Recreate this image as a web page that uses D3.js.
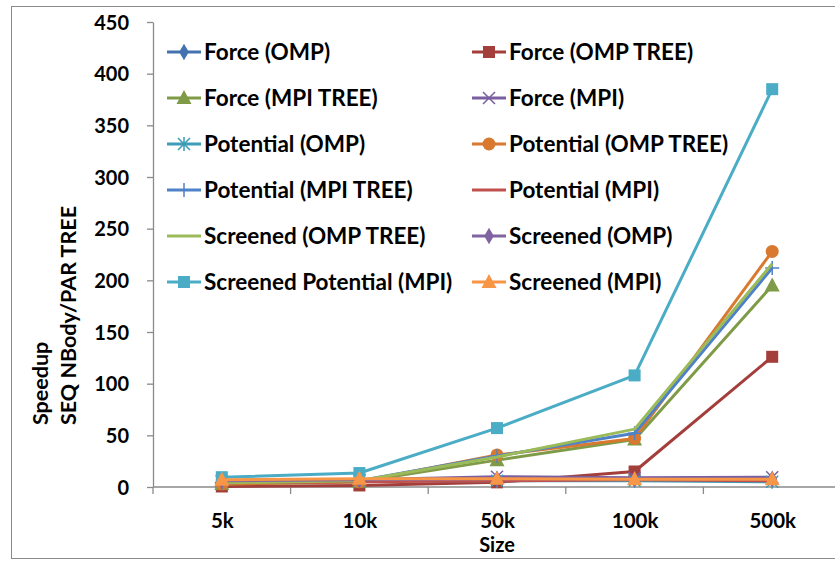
<!DOCTYPE html>
<html>
<head>
<meta charset="utf-8">
<script src="https://cdn.jsdelivr.net/npm/d3@7"></script>
<style>
  html, body { margin: 0; padding: 0; background: #fff; }
  svg { display: block; }
  text { font-family: Lato, "Open Sans", sans-serif; font-weight: bold; fill: #000; }
</style>
</head>
<body>
<svg id="chart" width="835" height="561"></svg>
<script>
// Problem sizes on the category axis
const sizes = ["5k", "10k", "50k", "100k", "500k"];

// Y axis ticks
const yTicks = [0, 50, 100, 150, 200, 250, 300, 350, 400, 450];

// Series names (legend order is row by row, two columns)
const seriesNames = [
  "Force (OMP)", "Force (OMP TREE)",
  "Force (MPI TREE)", "Force (MPI)",
  "Potential (OMP)", "Potential (OMP TREE)",
  "Potential (MPI TREE)", "Potential (MPI)",
  "Screened (OMP TREE)", "Screened (OMP)",
  "Screened Potential (MPI)", "Screened (MPI)"
];

// Speedup values per series, one per size
const forceOmp          = [5, 6, 7, 7, 7];
const forceOmpTree      = [0.5, 1.5, 4.5, 15, 126];
const forceMpiTree      = [3, 5, 26, 46, 195];
const forceMpi          = [6, 7, 10, 9, 9.5];
const potentialOmp      = [5, 6, 6, 6, 5];
const potentialOmpTree  = [3, 5, 31, 47, 228];
const potentialMpiTree  = [4, 6, 30, 52, 212];
const potentialMpi      = [4, 5, 6, 7, 6];
const screenedOmpTree   = [4, 6, 29, 56, 216];
const screenedOmp       = [6, 7, 8, 8, 8];
const screenedPotMpi    = [9.5, 13.5, 57, 108, 385];
const screenedMpi       = [7, 8, 8, 7.5, 7.5];

const seriesValues = [
  forceOmp, forceOmpTree, forceMpiTree, forceMpi,
  potentialOmp, potentialOmpTree, potentialMpiTree, potentialMpi,
  screenedOmpTree, screenedOmp, screenedPotMpi, screenedMpi
];

const seriesColors = [
  "#4372AE", "#A33E3A", "#7F9B47", "#7B5EA0",
  "#3C9DB6", "#D9792F", "#4F81C8", "#C0504D",
  "#9BBB59", "#8064A2", "#4BACC6", "#F79646"
];

const seriesMarkers = [
  "diamond", "square", "triangle", "x",
  "star", "circle", "plus", "none",
  "none", "diamond", "square", "triangle"
];

const svg = d3.select("#chart");

// Chart frame
svg.append("rect")
  .attr("x", 11.5).attr("y", 6.5)
  .attr("width", 840).attr("height", 552)
  .attr("fill", "#fff").attr("stroke", "#8a8a8a").attr("stroke-width", 1);

const plot = { left: 153, right: 841, top: 22, bottom: 487 };

const xBand = d3.scaleBand().domain(sizes).range([plot.left, plot.right]);
const x = d3.scalePoint().domain(sizes).range([plot.left, plot.right]).padding(0.5);
const y = d3.scaleLinear().domain([0, 450]).range([plot.bottom, plot.top]);

// Y axis
const yAxis = svg.append("g")
  .attr("transform", `translate(${plot.left},0)`)
  .call(d3.axisLeft(y).tickValues(yTicks).tickSize(6).tickPadding(18).tickSizeOuter(0));
yAxis.select(".domain").attr("stroke", "#8a8a8a").attr("stroke-width", 1.3);
yAxis.selectAll(".tick line").attr("stroke", "#8a8a8a").attr("stroke-width", 1.3);
yAxis.selectAll(".tick text")
  .attr("font-size", 20).attr("font-family", "Lato, sans-serif").attr("font-weight", "bold")
  .attr("fill", "#000").attr("dy", "0.35em");

// X axis: labels at category centres, tick marks at band boundaries
const xAxis = svg.append("g")
  .attr("transform", `translate(0,${plot.bottom})`)
  .call(d3.axisBottom(x).tickSize(0).tickPadding(26).tickSizeOuter(0));
xAxis.select(".domain").remove();
xAxis.selectAll(".tick text")
  .attr("font-size", 20.5).attr("font-family", "Lato, sans-serif").attr("font-weight", "bold")
  .attr("fill", "#000");
svg.append("line")
  .attr("x1", plot.left).attr("x2", plot.right)
  .attr("y1", plot.bottom).attr("y2", plot.bottom)
  .attr("stroke", "#8a8a8a").attr("stroke-width", 1.3);
svg.append("g").selectAll("line")
  .data(sizes.map(s => xBand(s)).concat([xBand(sizes[sizes.length - 1]) + xBand.bandwidth()]))
  .join("line")
  .attr("x1", d => d).attr("x2", d => d)
  .attr("y1", plot.bottom).attr("y2", plot.bottom + 7)
  .attr("stroke", "#8a8a8a").attr("stroke-width", 1.3);

// Axis titles
svg.append("text")
  .attr("x", (plot.left + plot.right) / 2).attr("y", 552)
  .attr("text-anchor", "middle").attr("font-size", 20)
  .text("Size");

const yTitle = svg.append("text")
  .attr("transform", "translate(0,0) rotate(-90)")
  .attr("font-size", 21.5);
yTitle.append("tspan").attr("x", -425).attr("y", 48).text("Speedup");
yTitle.append("tspan").attr("x", -425).attr("y", 76).text("SEQ NBody/PAR TREE");

// Marker drawing
function drawMarker(g, type, color, cx, cy) {
  if (type === "none") return;
  if (type === "square") {
    g.append("rect").attr("x", cx - 6).attr("y", cy - 6).attr("width", 12).attr("height", 12)
      .attr("fill", color);
  } else if (type === "circle") {
    g.append("circle").attr("cx", cx).attr("cy", cy).attr("r", 6.5).attr("fill", color);
  } else if (type === "diamond") {
    g.append("path").attr("transform", `translate(${cx},${cy})`)
      .attr("d", d3.symbol(d3.symbolDiamond, 80)()).attr("fill", color);
  } else if (type === "triangle") {
    g.append("path").attr("transform", `translate(${cx},${cy})`)
      .attr("d", "M0,-8L7.5,6L-7.5,6Z").attr("fill", color);
  } else if (type === "x") {
    g.append("path").attr("transform", `translate(${cx},${cy})`)
      .attr("d", "M-6,-6L6,6M-6,6L6,-6").attr("stroke", color).attr("stroke-width", 1.5).attr("fill", "none");
  } else if (type === "star") {
    g.append("path").attr("transform", `translate(${cx},${cy})`)
      .attr("d", "M-6,-6L6,6M-6,6L6,-6M0,-7L0,7")
      .attr("stroke", color).attr("stroke-width", 1.5).attr("fill", "none");
  } else if (type === "plus") {
    g.append("path").attr("transform", `translate(${cx},${cy})`)
      .attr("d", "M-7,0L7,0M0,-7L0,7").attr("stroke", color).attr("stroke-width", 1.5).attr("fill", "none");
  }
}

// Series lines and markers
const line = d3.line().x((d, i) => x(sizes[i])).y(d => y(d));
const seriesG = svg.append("g");
seriesValues.forEach((vals, k) => {
  const g = seriesG.append("g");
  g.append("path").datum(vals).attr("d", line)
    .attr("fill", "none").attr("stroke", seriesColors[k]).attr("stroke-width", 3)
    .attr("stroke-linejoin", "round");
  vals.forEach((v, i) => drawMarker(g, seriesMarkers[k], seriesColors[k], x(sizes[i]), y(v)));
});

// Legend, two columns
const legendCols = [167, 472];
const legendTop = 52, legendStep = 46;
const legend = svg.append("g");
seriesNames.forEach((name, k) => {
  const col = k % 2, row = Math.floor(k / 2);
  const lx = legendCols[col], ly = legendTop + row * legendStep;
  const g = legend.append("g");
  g.append("line").attr("x1", lx).attr("x2", lx + 34).attr("y1", ly).attr("y2", ly)
    .attr("stroke", seriesColors[k]).attr("stroke-width", 3);
  drawMarker(g, seriesMarkers[k], seriesColors[k], lx + 17, ly);
  g.append("text").attr("x", lx + 37).attr("y", ly).attr("dy", "0.35em")
    .attr("font-size", 22.5).text(name);
});
</script>
</body>
</html>
